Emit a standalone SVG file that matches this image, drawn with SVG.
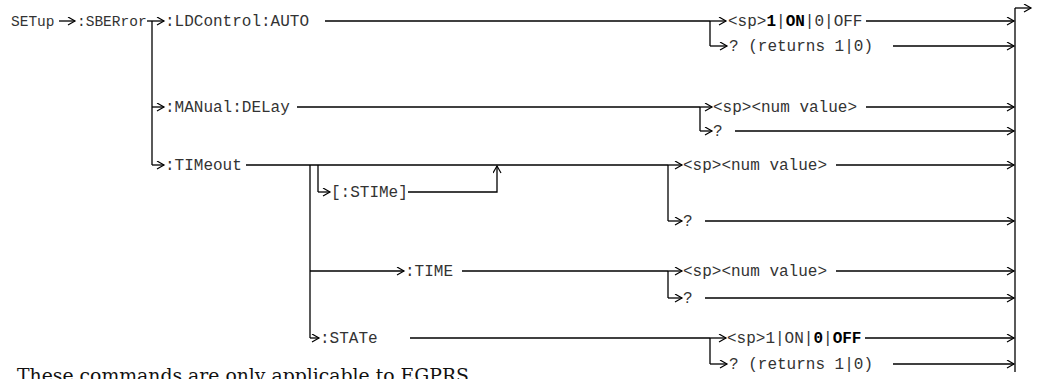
<svg xmlns="http://www.w3.org/2000/svg" width="1042" height="379" viewBox="0 0 1042 379">
<defs>
<style>
.t{font-family:"Liberation Mono","DejaVu Sans Mono",monospace;font-size:16px;fill:#333}
.s{font-size:14.5px}
.b{font-weight:bold;fill:#000}
.n{font-family:"DejaVu Serif","Liberation Serif",serif;font-size:18px;fill:#111}
.c line,.c path{stroke:#000;stroke-width:1.3;fill:none}
.a{marker-end:url(#ah)}
</style>
<marker id="ah" markerUnits="userSpaceOnUse" markerWidth="10" markerHeight="10" refX="8" refY="4.5" orient="auto"><path d="M1,0.5 L8,4.5 L1,8.5" fill="none" stroke="#000" stroke-width="1.2"/></marker>
</defs>
<rect width="1042" height="379" fill="#fff"/>
<g id="connectors" class="c">
<line class="a" x1="59" y1="21" x2="75" y2="21"/>
<line x1="152" y1="21" x2="152" y2="165"/>
<line class="a" x1="147" y1="21" x2="164" y2="21"/>
<line class="a" x1="152" y1="107" x2="164" y2="107"/>
<line class="a" x1="152" y1="165" x2="164" y2="165"/>
<line x1="325" y1="21" x2="710" y2="21"/>
<line x1="710" y1="21" x2="710" y2="46"/>
<line class="a" x1="710" y1="21" x2="726" y2="21"/>
<line class="a" x1="710" y1="46" x2="727" y2="46"/>
<line class="a" x1="866" y1="21" x2="1014" y2="21"/>
<line class="a" x1="893" y1="46" x2="1014" y2="46"/>
<line x1="297" y1="107" x2="700" y2="107"/>
<line x1="700" y1="107" x2="700" y2="131"/>
<line class="a" x1="700" y1="107" x2="712" y2="107"/>
<line class="a" x1="700" y1="131" x2="712" y2="131"/>
<line class="a" x1="866" y1="107" x2="1014" y2="107"/>
<line class="a" x1="735" y1="131" x2="1014" y2="131"/>
<line x1="246" y1="165" x2="668" y2="165"/>
<line class="a" x1="668" y1="165" x2="682" y2="165"/>
<line x1="668" y1="165" x2="668" y2="221"/>
<line class="a" x1="668" y1="221" x2="682" y2="221"/>
<line class="a" x1="836" y1="165" x2="1014" y2="165"/>
<line class="a" x1="705" y1="221" x2="1014" y2="221"/>
<line x1="310" y1="165" x2="310" y2="338"/>
<line x1="318" y1="165" x2="318" y2="192"/>
<line class="a" x1="318" y1="192" x2="330" y2="192"/>
<path class="a" d="M408,192 H497 V166"/>
<line class="a" x1="310" y1="271" x2="404" y2="271"/>
<line x1="462" y1="271" x2="668" y2="271"/>
<line x1="668" y1="271" x2="668" y2="298"/>
<line class="a" x1="668" y1="271" x2="682" y2="271"/>
<line class="a" x1="668" y1="298" x2="682" y2="298"/>
<line class="a" x1="836" y1="271" x2="1014" y2="271"/>
<line class="a" x1="705" y1="298" x2="1014" y2="298"/>
<line class="a" x1="310" y1="338" x2="319" y2="338"/>
<line x1="410" y1="338" x2="710" y2="338"/>
<line x1="710" y1="338" x2="710" y2="364"/>
<line class="a" x1="710" y1="338" x2="726" y2="338"/>
<line class="a" x1="710" y1="364" x2="727" y2="364"/>
<line class="a" x1="865" y1="338" x2="1014" y2="338"/>
<line class="a" x1="893" y1="364" x2="1014" y2="364"/>
<line x1="1015" y1="8" x2="1015" y2="372"/>
<line class="a" x1="1015" y1="8" x2="1031" y2="8"/>
</g>
<g id="setup"><text class="t s" x="11" y="26">SETup</text></g>
<g id="sberror"><text class="t s" x="77" y="26">:SBERror</text></g>
<g id="ldcontrol"><text class="t" x="165" y="26">:LDControl:AUTO</text></g>
<g id="ld-set"><text class="t" x="728" y="26">&lt;sp&gt;<tspan class="b">1</tspan>|<tspan class="b">ON</tspan>|0|OFF</text></g>
<g id="ld-query"><text class="t" x="729" y="51">? (returns 1|0)</text></g>
<g id="manual"><text class="t" x="165" y="112">:MANual:DELay</text></g>
<g id="manual-set"><text class="t" x="713" y="112">&lt;sp&gt;&lt;num value&gt;</text></g>
<g id="manual-query"><text class="t" x="713" y="136">?</text></g>
<g id="timeout"><text class="t" x="165" y="170">:TIMeout</text></g>
<g id="stime"><text class="t" x="331" y="197">[:STIMe]</text></g>
<g id="timeout-set"><text class="t" x="683" y="170">&lt;sp&gt;&lt;num value&gt;</text></g>
<g id="timeout-query"><text class="t" x="683" y="226">?</text></g>
<g id="time"><text class="t" x="405" y="276">:TIME</text></g>
<g id="time-set"><text class="t" x="683" y="276">&lt;sp&gt;&lt;num value&gt;</text></g>
<g id="time-query"><text class="t" x="683" y="303">?</text></g>
<g id="state"><text class="t" x="320" y="343">:STATe</text></g>
<g id="state-set"><text class="t" x="727" y="343">&lt;sp&gt;1|ON|<tspan class="b">0</tspan>|<tspan class="b">OFF</tspan></text></g>
<g id="state-query"><text class="t" x="729" y="369">? (returns 1|0)</text></g>
<g id="note"><text class="n" x="17" y="382" textLength="452" lengthAdjust="spacingAndGlyphs">These commands are only applicable to EGPRS</text></g>
</svg>
